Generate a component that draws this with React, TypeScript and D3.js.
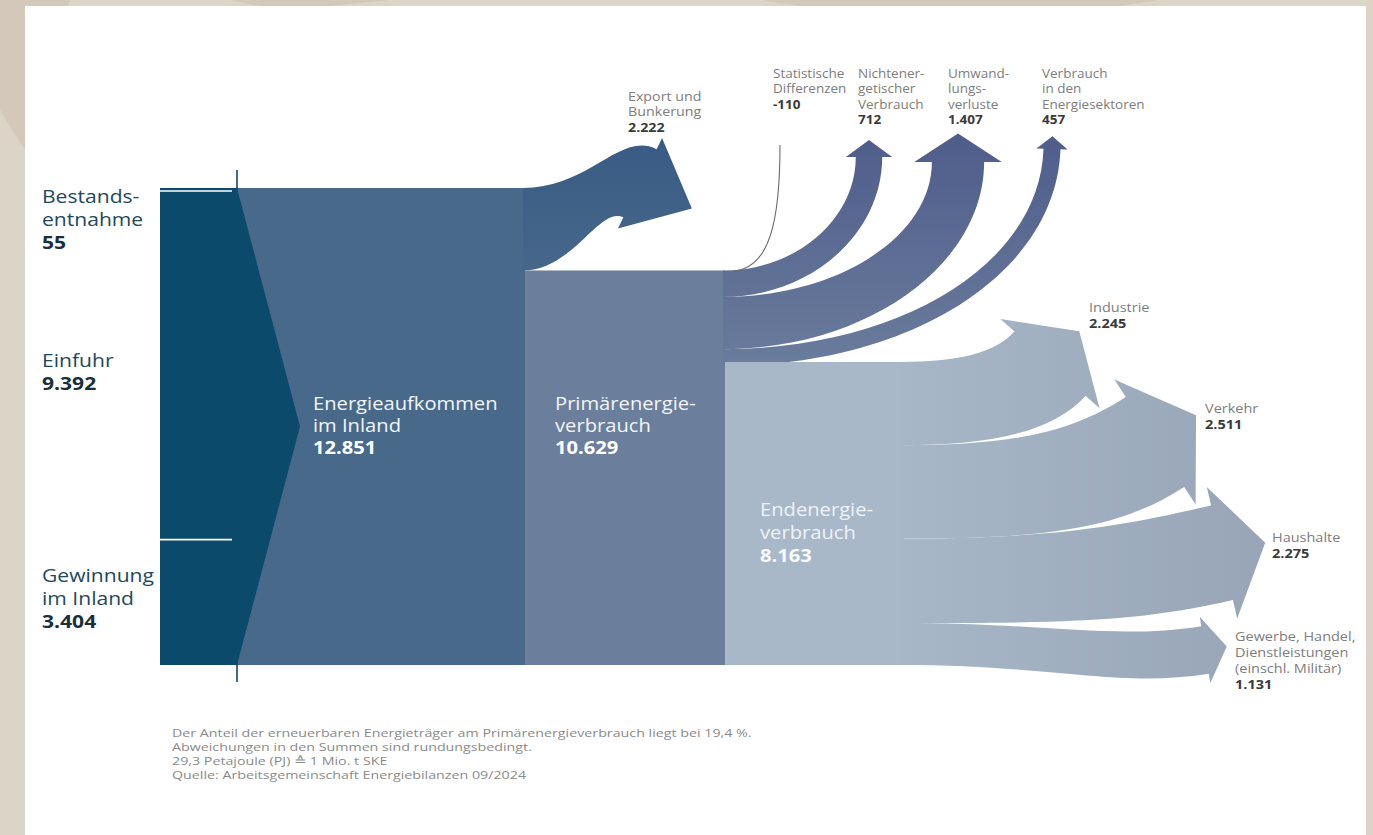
import React, { useEffect, useRef } from 'react'
import * as d3 from 'd3'

const W = 1373
const H = 835

// Energieflussbild 2023, Petajoule
const sourceNames = [['Bestands-', 'entnahme'], ['Einfuhr'], ['Gewinnung', 'im Inland']]
const sourceValues = [55, 9392, 3404]

const stageNames = [['Energieaufkommen', 'im Inland'], ['Primärenergie-', 'verbrauch'], ['Endenergie-', 'verbrauch']]
const stageValues = [12851, 10629, 8163]

const exportName = ['Export und', 'Bunkerung']
const exportValue = 2222

const lossNames = [
    ['Statistische', 'Differenzen'],
    ['Nichtener-', 'getischer', 'Verbrauch'],
    ['Umwand-', 'lungs-', 'verluste'],
    ['Verbrauch', 'in den', 'Energiesektoren'],
]
const lossValues = [-110, 712, 1407, 457]

const useNames = [['Industrie'], ['Verkehr'], ['Haushalte'], ['Gewerbe, Handel,', 'Dienstleistungen', '(einschl. Militär)']]
const useValues = [2245, 2511, 2275, 1131]

const notes = [
    'Der Anteil der erneuerbaren Energieträger am Primärenergieverbrauch liegt bei 19,4 %.',
    'Abweichungen in den Summen sind rundungsbedingt.',
    '29,3 Petajoule (PJ) \u2259 1 Mio. t SKE',
    'Quelle: Arbeitsgemeinschaft Energiebilanzen 09/2024',
]

// layout of the arrows (relative to the column edges and band positions)
const colX = [160, 237, 525, 725, 900]
const exportLayout = { reach: 115, lift: 46, angle: 26, spread: 0.92, head: 1.22, len: 1.4 }
const upLayout = [
    { reach: 144, top: 157, angle: -90 },
    { reach: 233, top: 162, angle: -90 },
    { reach: 327, top: 149, angle: -88 },
]
const useLayout = [
    { reach: 150, lift: 40, angle: -48 },
    { reach: 255, lift: 50, angle: -33 },
    { reach: 322, lift: 28, angle: -13 },
    { reach: 305, lift: -6, angle: -9 },
]

const font = '"Open Sans", "Noto Sans", sans-serif'
const fmt = d3.formatLocale({ decimal: ',', thousands: '.', grouping: [3], currency: ['', ' €'], minus: '-' }).format(',d')

type Pt = [number, number]

function arrowPath(x0: number, yT: number, yB: number, bx: number, by: number, angDeg: number,
    bandHalf: number, headHalf: number, headLen: number, k1: number, k2: number) {
    const a = angDeg * Math.PI / 180
    const d: Pt = [Math.cos(a), Math.sin(a)]
    const p: Pt = [-Math.sin(a), Math.cos(a)]
    const off = (s: number): Pt => [bx + s * p[0], by + s * p[1]]
    const eT = off(-bandHalf), eB = off(bandHalf)
    const hT = off(-headHalf), hB = off(headHalf)
    const tip: Pt = [bx + headLen * d[0], by + headLen * d[1]]
    const ctl = (e: Pt, y0: number): [Pt, Pt] => {
        const c1 = k1 * Math.abs(e[0] - x0)
        const c2 = k2 * Math.abs((e[0] - x0) * d[0] + (e[1] - y0) * d[1])
        return [[x0 + c1, y0], [e[0] - c2 * d[0], e[1] - c2 * d[1]]]
    }
    const [t1, t2] = ctl(eT, yT)
    const [b1, b2] = ctl(eB, yB)
    const path = d3.path()
    path.moveTo(x0, yT)
    path.bezierCurveTo(t1[0], t1[1], t2[0], t2[1], eT[0], eT[1])
    path.lineTo(hT[0], hT[1])
    path.lineTo(tip[0], tip[1])
    path.lineTo(hB[0], hB[1])
    path.lineTo(eB[0], eB[1])
    path.bezierCurveTo(b2[0], b2[1], b1[0], b1[1], x0, yB)
    path.closePath()
    return path.toString()
}

const App: React.FC = () => {
    const ref = useRef<SVGSVGElement | null>(null)

    useEffect(() => {
        if (!ref.current) return
        const svg = d3.select(ref.current)
        svg.selectAll('*').remove()

        const total = stageValues[0]
        const y = d3.scaleLinear().domain([0, total]).range([188, 665])
        const half = (v: number) => (y(v) - y(0)) / 2

        // gradients
        const defs = svg.append('defs')
        const grad = (id: string, x1: number, y1: number, x2: number, y2: number, c1: string, c2: string) => {
            const g = defs.append('linearGradient').attr('id', id).attr('gradientUnits', 'userSpaceOnUse')
                .attr('x1', x1).attr('y1', y1).attr('x2', x2).attr('y2', y2)
            g.append('stop').attr('offset', 0).attr('stop-color', c1)
            g.append('stop').attr('offset', 1).attr('stop-color', c2)
        }
        grad('gExport', 0, 270, 0, 130, '#46678a', '#385b84')
        grad('gUp', 0, 365, 0, 135, '#6a7c9c', '#4f5d8b')
        grad('gUse', 900, 0, 1270, 0, '#a8b7c8', '#97a5b6')

        // background
        svg.append('rect').attr('width', W).attr('height', H).attr('fill', '#ddd4c8')
        const bg: Pt[][] = [
            [[0, 0], [70, 0], [25, 150], [0, 110]],
            [[230, 0], [390, 0], [330, 6], [260, 6]],
            [[760, 0], [1160, 0], [1120, 6], [800, 6]],
        ]
        svg.selectAll('.bg').data(bg).join('polygon').attr('class', 'bg')
            .attr('points', d => d.map(q => q.join(',')).join(' '))
            .attr('fill', '#d3c8ba')
        svg.append('rect').attr('x', 25).attr('y', 6).attr('width', 1341).attr('height', H).attr('fill', '#ffffff')

        // Energieaufkommen block
        svg.append('rect').attr('x', colX[1]).attr('y', y(0)).attr('width', colX[2] - colX[1])
            .attr('height', y(total) - y(0)).attr('fill', '#48698a')

        // Export arrow
        {
            const hw = half(exportValue)
            const L = exportLayout
            svg.append('path')
                .attr('d', arrowPath(colX[2] - 2, y(0), y(exportValue), colX[2] + L.reach,
                    (y(0) + y(exportValue)) / 2 - L.lift, L.angle, hw * L.spread, hw * L.head, hw * L.len, 0.5, 0.4))
                .attr('fill', 'url(#gExport)')
        }

        // Primärenergie block
        svg.append('rect').attr('x', colX[2]).attr('y', y(exportValue)).attr('width', colX[3] - colX[2])
            .attr('height', y(total) - y(exportValue)).attr('fill', '#6b7e9c')

        // upward arrows (losses)
        let cum = exportValue
        lossValues.forEach((v, i) => {
            if (v <= 0) return
            const L = upLayout[i - 1]
            const hw = half(v)
            svg.append('path')
                .attr('d', arrowPath(colX[3] - 2, y(cum), y(cum + v), colX[3] + L.reach, L.top, L.angle,
                    hw, hw * 1.6 + 2, hw * 0.9 + 5, 0.55, 0.55))
                .attr('fill', 'url(#gUp)')
            cum += v
        })
        // statistische Differenzen: thin line
        svg.append('path')
            .attr('d', `M${colX[3] + 8},${y(exportValue) + 0.5} C${colX[3] + 45},${y(exportValue) - 2} ${colX[3] + 55},${y(exportValue) - 50} ${colX[3] + 55},145`)
            .attr('fill', 'none').attr('stroke', '#6b6b6b').attr('stroke-width', 1.1)

        // Endenergie block
        const endTop = total - stageValues[2]
        svg.append('rect').attr('x', colX[3]).attr('y', y(endTop)).attr('width', colX[4] - colX[3] + 4)
            .attr('height', y(total) - y(endTop)).attr('fill', '#a9b8c9')

        // end-use arrows
        let c2 = endTop
        const useBands = useValues.map((v, i) => {
            const b = { v, i, yT: y(c2), yB: y(c2 + v) }
            c2 += v
            return b
        })
        useBands.slice().reverse().forEach(b => {
            const L = useLayout[b.i]
            const hw = half(b.v)
            svg.append('path')
                .attr('d', arrowPath(colX[4], b.yT, b.yB, colX[4] + L.reach, (b.yT + b.yB) / 2 - L.lift, L.angle,
                    hw * 1.15, hw * 1.6, hw * 1.05, 0.5, 0.3))
                .attr('fill', 'url(#gUse)')
        })

        // source column
        svg.append('rect').attr('x', colX[0]).attr('y', y(0)).attr('width', colX[1] - colX[0])
            .attr('height', y(total) - y(0)).attr('fill', '#0c4a6c')
        svg.append('polygon')
            .attr('points', `${colX[1]},${y(0)} ${colX[1] + 63},${y(total / 2)} ${colX[1]},${y(total)}`)
            .attr('fill', '#0c4a6c')
        svg.append('line').attr('x1', colX[1]).attr('x2', colX[1]).attr('y1', y(0) - 18).attr('y2', y(total) + 17)
            .attr('stroke', '#0c4a6c').attr('stroke-width', 1.6)
        let sc = 0
        sourceValues.slice(0, -1).forEach(v => {
            sc += v
            svg.append('line').attr('x1', colX[0]).attr('x2', colX[1] - 5)
                .attr('y1', y(sc) + 1).attr('y2', y(sc) + 1)
                .attr('stroke', '#ffffff').attr('stroke-width', 1.6)
        })

        // text helper: lines + bold value, slightly widened like the original
        const label = (x: number, y0: number, lines: string[], value: number, size: number, lh: number,
            sx: number, color: string, valueColor: string) => {
            const g = svg.append('g').attr('transform', `translate(${x},${y0}) scale(${sx},1)`)
                .attr('font-family', font).attr('font-size', size)
            lines.forEach((s, k) => {
                g.append('text').attr('x', 0).attr('y', k * lh).attr('fill', color).text(s)
            })
            g.append('text').attr('x', 0).attr('y', lines.length * lh)
                .attr('font-weight', 700).attr('fill', valueColor).text(fmt(value))
        }

        // left labels
        const srcY = [203, 367, 582]
        sourceNames.forEach((n, i) => label(42, srcY[i], n, sourceValues[i], 18.5, 23, 1.14, '#21495a', '#1a2f3b'))

        // block labels
        label(313, 410, stageNames[0], stageValues[0], 18, 22, 1.12, '#f2f6fa', '#ffffff')
        label(555, 410, stageNames[1], stageValues[1], 18, 22, 1.12, '#f2f6fa', '#ffffff')
        label(760, 516, stageNames[2], stageValues[2], 18, 23, 1.12, '#eef2f7', '#f7f9fc')

        // top labels
        label(628, 101, exportName, exportValue, 12.5, 15.5, 1.14, '#7d7d7d', '#3a3a3a')
        const lossX = [773, 858, 948, 1042]
        lossNames.forEach((n, i) => label(lossX[i], 78, n, lossValues[i], 12.5, 15.5, 1.08, '#7d7d7d', '#3a3a3a'))

        // right labels
        const usePos: Pt[] = [[1089, 312], [1205, 413], [1272, 542], [1235, 641]]
        useNames.forEach((n, i) => label(usePos[i][0], usePos[i][1], n, useValues[i], 12.5, 16, 1.16, '#7d7d7d', '#3a3a3a'))

        // notes
        svg.append('g').attr('transform', 'translate(172,737) scale(1.24,1)')
            .selectAll('text').data(notes).join('text')
            .attr('x', 0).attr('y', (_, i) => i * 14)
            .attr('font-family', font).attr('font-size', 11.5).attr('fill', '#8a8a8a')
            .text(d => d)
    }, [])

    return <svg ref={ref} width={W} height={H} style={{ position: 'fixed', left: 0, top: 0, display: 'block' }} />
}

export default App
